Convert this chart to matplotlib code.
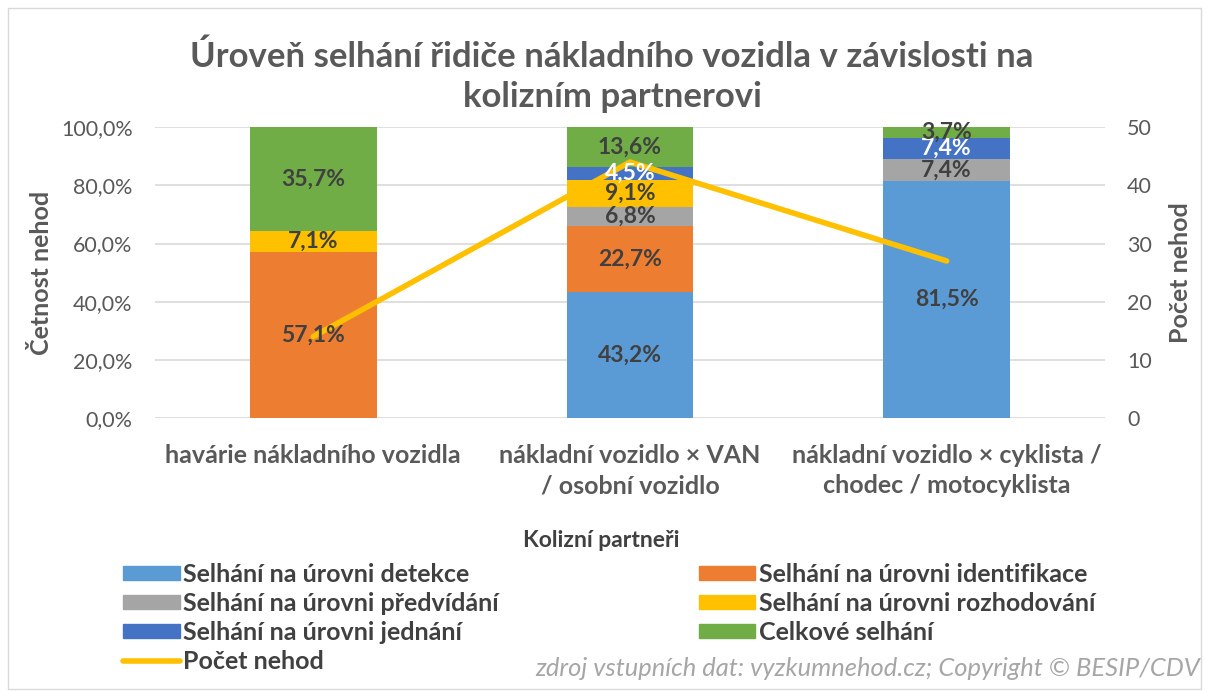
import matplotlib.pyplot as plt
import numpy as np
from matplotlib.patches import Rectangle
from matplotlib.lines import Line2D
from matplotlib.patches import Patch

plt.rcParams['font.family'] = ['Lato', 'DejaVu Sans']

categories = ['havárie nákladního vozidla',
              'nákladní vozidlo × VAN\n/ osobní vozidlo',
              'nákladní vozidlo × cyklista /\nchodec / motocyklista']
series_names = ['Selhání na úrovni detekce', 'Selhání na úrovni identifikace',
                'Selhání na úrovni předvídání', 'Selhání na úrovni rozhodování',
                'Selhání na úrovni jednání', 'Celkové selhání']
detekce = [0.0, 43.2, 81.5]
identifikace = [57.1, 22.7, 0.0]
predvidani = [0.0, 6.8, 7.4]
rozhodovani = [7.1, 9.1, 0.0]
jednani = [0.0, 4.5, 7.4]
celkove = [35.7, 13.6, 3.7]
pocet_nehod = [14, 44, 27]

colors = ['#5B9BD5', '#ED7D31', '#A5A5A5', '#FFC000', '#4472C4', '#70AD47']
label_colors = ['#404040', '#404040', '#404040', '#404040', 'white', '#404040']
gray = '#595959'

fig = plt.figure(figsize=(12.05, 6.91), dpi=100)
ax = fig.add_axes([0.1286, 0.395, 0.7884, 0.4210])
ax2 = ax.twinx()

x = np.arange(len(categories))
series = [detekce, identifikace, predvidani, rozhodovani, jednani, celkove]
bottom = np.zeros(len(categories))
handles = []
labels_to_draw = []
for vals, c, lc, name in zip(series, colors, label_colors, series_names):
    vals = np.array(vals)
    ax.bar(x, vals, width=0.4, bottom=bottom, color=c, zorder=2)
    for xi, b, v in zip(x, bottom, vals):
        if v > 0:
            labels_to_draw.append((xi, b + v / 2, ('%.1f%%' % v).replace('.', ','), lc))
    bottom += vals
    handles.append(Patch(color=c, label=name))

ax.set_ylim(0, 100)
ax.set_xlim(-0.5, 2.5)
ax.set_yticks(np.arange(0, 101, 20))
ax.set_yticklabels([('%.1f%%' % v).replace('.', ',') for v in np.arange(0, 101, 20)])
ax.grid(axis='y', color='#D9D9D9', linewidth=1.2, zorder=0)
ax.set_axisbelow(True)
ax.tick_params(axis='both', length=0, colors=gray)
ax.tick_params(axis='y', pad=16, labelsize=15.5)
ax.tick_params(axis='x', pad=19)
ax.set_xticks(x)
ax.set_xticklabels(categories, fontsize=18, fontweight='bold', color=gray, linespacing=1.35)
for s in ax.spines.values():
    s.set_visible(False)
for s in ax2.spines.values():
    s.set_visible(False)
ax.set_ylabel('Četnost nehod', fontsize=18, fontweight='bold', color=gray, labelpad=6)
ax.set_xlabel('Kolizní partneři', fontsize=16.5, fontweight='bold', color='#404040')
ax.xaxis.set_label_coords(0.47, -0.385)

line, = ax2.plot(x, pocet_nehod, color='#FFC000', linewidth=4, label='Počet nehod', solid_capstyle='round')
ax2.set_ylim(0, 50)
ax2.set_yticks(np.arange(0, 51, 10))
ax2.tick_params(axis='y', length=0, colors=gray, labelsize=15.5, pad=16)
ax2.set_ylabel('Počet nehod', fontsize=18, fontweight='bold', color=gray, labelpad=12)

for xi, yi, s, lc in labels_to_draw:
    ax2.text(xi, yi, s, transform=ax.transData, ha='center', va='center',
             fontsize=16.5, fontweight='bold', color=lc)

fig.suptitle('Úroveň selhání řidiče nákladního vozidla v závislosti na\nkolizním partnerovi',
             x=0.508, y=0.942, fontsize=25, fontweight='bold', color=gray, linespacing=1.33)

order = [0, 2, 4, 6, 1, 3, 5]
all_handles = handles + [line]
leg = fig.legend([all_handles[i] for i in order], [all_handles[i].get_label() for i in order],
                 ncol=2, loc='upper left', bbox_to_anchor=(0.092, 0.204), frameon=False,
                 fontsize=18, handlelength=2.25, handleheight=0.5, columnspacing=8.0,
                 labelspacing=0.24, handletextpad=0.15, borderpad=0)
for t in leg.get_texts():
    t.set_color('#404040')
    t.set_fontweight('bold')

fig.text(0.996, 0.033, 'zdroj vstupních dat: vyzkumnehod.cz; Copyright © BESIP/CDV',
         ha='right', va='center', fontsize=18.4, style='italic', color='#A6A6A6')

fig.patches.append(Rectangle((0.007, 0.003), 0.99, 0.985, transform=fig.transFigure,
                             fill=False, edgecolor='#D9D9D9', linewidth=1))

fig.savefig('out.png', dpi=100)
